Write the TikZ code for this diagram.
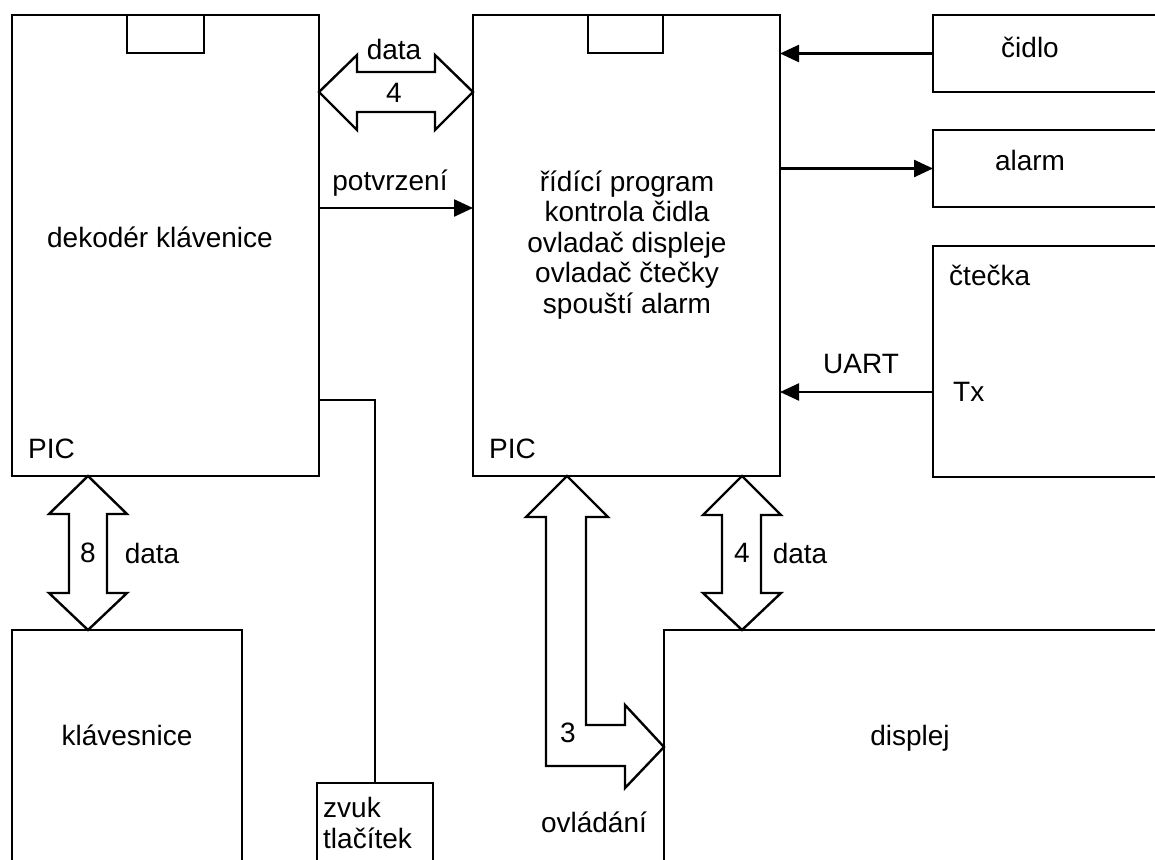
\documentclass[tikz,border=0pt]{standalone}
\usepackage{fontspec}
\setmainfont{Liberation Sans}
\usetikzlibrary{arrows.meta,calc}
\tikzset{
  box/.style={draw, line width=2.4pt, inner sep=0pt, outer sep=0pt, anchor=north west},
  arr/.style={line width=2.4pt, -{Triangle[length=19pt,width=17pt]}},
  bus/.style={draw, line width=2.4pt, line join=miter, fill=white},
  wire/.style={line width=2.4pt},
  lbl/.style={inner sep=0pt, font=\fontsize{28}{30.5}\selectfont},
}
\begin{document}
\begin{tikzpicture}[x=1pt,y=-1pt]
\useasboundingbox (0,0) rectangle (1155,859);
\clip (0,0) rectangle (1155,859);
% boxes
\node[box, minimum width=307pt, minimum height=461pt] (lpic) at (12,15) {};
\node[box, minimum width=77pt, minimum height=38pt] (ln) at (127,15) {};
\node[box, minimum width=307pt, minimum height=461pt] (rpic) at (473,15) {};
\node[box, minimum width=75pt, minimum height=38pt] (rn) at (588,15) {};
\node[box, minimum width=260pt, minimum height=77pt] (cidlo) at (933,15) {};
\node[box, minimum width=260pt, minimum height=77pt] (alarm) at (933,130) {};
\node[box, minimum width=260pt, minimum height=231pt] (ctecka) at (933,246) {};
\node[box, minimum width=230pt, minimum height=260pt] (klav) at (12,630) {};
\node[box, minimum width=116pt, minimum height=100pt] (zvuk) at (317,783) {};
\node[box, minimum width=560pt, minimum height=260pt] (disp) at (664,630) {};
% texts in boxes
\node[lbl] (t1) at (160,237) {dekodér klávenice};
\node[lbl, anchor=west] (t2) at (28,449) {PIC};
\node[lbl, align=center] (t3) at (627,245) {řídící program\\kontrola čidla\\ovladač displeje\\ovladač čtečky\\spouští alarm};
\node[lbl, anchor=west] (t4) at (489,449) {PIC};
\node[lbl] (t5) at (1030,47) {čidlo};
\node[lbl] (t6) at (1030,160) {alarm};
\node[lbl, anchor=west] (t7) at (949,275) {čtečka};
\node[lbl, anchor=west] (t8) at (953,392) {Tx};
\node[lbl] (t9) at (127,735) {klávesnice};
\node[lbl, anchor=west] (t10) at (323,807) {zvuk};
\node[lbl, anchor=west] (t11) at (323,838) {tlačítek};
\node[lbl] (t12) at (910,738) {displej};
% single arrows
\coordinate (ci) at (cidlo.west);
\draw[arr] (ci) -- (rpic.east |- ci);
\coordinate (al) at (alarm.west);
\draw[arr] (rpic.east |- al) -- (al);
\coordinate (tx) at (933,392);
\draw[arr] (tx) -- (rpic.east |- tx);
\node[lbl] (uart) at (861,364) {UART};
\coordinate (po) at (319,208);
\draw[arr] (po) -- (rpic.west |- po);
\node[lbl] (potv) at (390,183) {potvrzení};
% zvuk wire
\coordinate (zw) at (319,400);
\draw[wire] (zw) -| (zvuk.north);
% horizontal bus data 4
\path[bus] (lpic.east |- 0,92) -- (357,55) -- (357,72) -- (435,72) -- (435,55) -- (rpic.west |- 0,92)
  -- (435,130) -- (435,112) -- (357,112) -- (357,130) -- cycle;
\node[lbl] (d1) at (394,49) {data};
\node[lbl] (n1) at (394,93) {4};
% vertical bus 8
\path[bus] (88,476) -- (127,514) -- (107,514) -- (107,593) -- (127,593) -- (88,630)
  -- (49,593) -- (69,593) -- (69,514) -- (49,514) -- cycle;
\node[lbl] (n2) at (88,553) {8};
\node[lbl] (d2) at (152,553) {data};
% vertical bus 4 right
\path[bus] (742,476) -- (781,515) -- (761,515) -- (761,593) -- (781,593) -- (742,630)
  -- (703,593) -- (722,593) -- (722,515) -- (703,515) -- cycle;
\node[lbl] (n3) at (742,553) {4};
\node[lbl] (d3) at (800,553) {data};
% L bus 3
\path[bus] (567,476) -- (608,517) -- (586,517) -- (586,725) -- (625,725) -- (625,705) -- (disp.west |- 0,747)
  -- (625,788) -- (625,766) -- (546,766) -- (546,517) -- (526,517) -- cycle;
\node[lbl] (n4) at (568,733) {3};
\node[lbl] (ov) at (594,822) {ovládání};
\end{tikzpicture}
\end{document}
